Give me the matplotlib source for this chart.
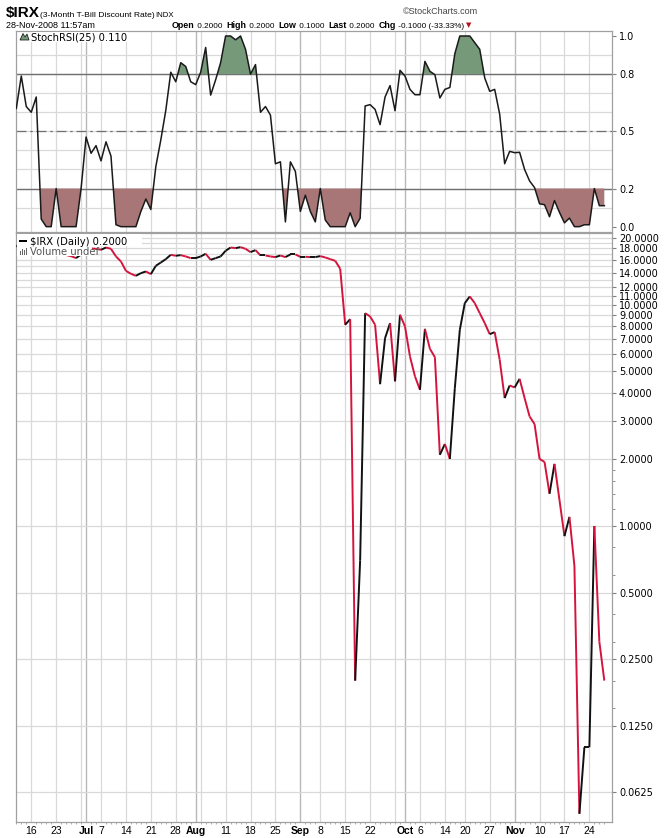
import numpy as np
import pandas as pd
import matplotlib
matplotlib.use('Agg')
import matplotlib.pyplot as plt
from matplotlib.collections import LineCollection
from matplotlib.patches import Polygon, Rectangle

# trading days shown (bond market holidays skipped)
holidays = ['2008-07-04', '2008-09-01', '2008-10-13', '2008-11-27']
days = pd.bdate_range('2008-06-11', '2008-11-28', freq='C', holidays=holidays)

# StochRSI(25)
stoch = [0.62, 0.79, 0.63, 0.60, 0.68, 0.04, 0.0, 0.0, 0.2, 0.0,
         0.0, 0.0, 0.0, 0.2, 0.47, 0.385, 0.425, 0.345, 0.445, 0.37,
         0.01, 0.0, 0.0, 0.0, 0.0, 0.08, 0.145, 0.09, 0.315, 0.455,
         0.61, 0.81, 0.76, 0.86, 0.84, 0.76, 0.745, 0.81, 0.94, 0.69,
         0.77, 0.86, 1.0, 1.0, 0.98, 1.0, 0.93, 0.8, 0.85, 0.60,
         0.63, 0.585, 0.33, 0.34, 0.025, 0.34, 0.29, 0.08, 0.165, 0.08,
         0.025, 0.2, 0.035, 0.0, 0.0, 0.0, 0.0, 0.073, 0.0, 0.044,
         0.633, 0.64, 0.615, 0.535, 0.68, 0.74, 0.608, 0.82, 0.79, 0.72,
         0.692, 0.692, 0.867, 0.815, 0.797, 0.675, 0.72, 0.73, 0.907, 1.0,
         1.0, 1.0, 0.965, 0.93, 0.78, 0.71, 0.72, 0.59, 0.33, 0.395,
         0.388, 0.39, 0.3, 0.24, 0.205, 0.12, 0.115, 0.052, 0.137, 0.075,
         0.02, 0.045, 0.0, 0.0, 0.01, 0.01, 0.2, 0.11, 0.11]

# $IRX daily close
irx = [18.4, 18.6, 18.3, 18.0, 18.1, 17.4, 17.2, 16.95, 17.1, 16.9,
       16.8, 16.6, 16.27, 16.9, 17.6, 18.0, 17.92, 17.74, 18.17, 17.92,
       16.55, 15.71, 14.25, 13.82, 13.53, 13.91, 14.16, 13.77, 15.02, 15.54,
       16.10, 16.84, 16.67, 16.78, 16.55, 16.27, 16.27, 16.55, 17.02, 15.98,
       16.27, 16.55, 17.56, 18.17, 18.05, 18.24, 17.92, 17.32, 17.68, 16.72,
       16.72, 16.55, 16.44, 16.72, 16.44, 16.9, 16.9, 16.49, 16.49, 16.44,
       16.44, 16.61, 16.38, 16.10, 15.82, 14.55, 8.13, 8.62, 0.20, 0.70,
       9.17, 8.86, 8.13, 4.38, 7.07, 8.27, 4.51, 9.02, 7.99, 5.84,
       4.75, 4.13, 7.79, 6.33, 5.80, 2.10, 2.35, 2.01, 4.20, 7.71,
       10.18, 10.91, 10.18, 9.17, 8.27, 7.37, 7.53, 5.65, 3.79, 4.32,
       4.23, 4.63, 3.79, 3.13, 2.89, 2.01, 1.95, 1.40, 1.91, 1.31,
       0.90, 1.10, 0.66, 0.05, 0.10, 0.10, 1.00, 0.30, 0.20]

price_ticks = [20, 18, 16, 14, 12, 11, 10, 9, 8, 7, 6, 5, 4, 3, 2, 1,
               0.5, 0.25, 0.125, 0.0625]
stoch_ticks = [0.0, 0.2, 0.5, 0.8, 1.0]

x = np.arange(len(days))
stoch = np.array(stoch)
irx = np.array(irx)

W, H = 670.0, 838.0
def box(l, t, r, b):
    return [l / W, 1 - b / H, (r - l) / W, (b - t) / H]

fig = plt.figure(figsize=(6.7, 8.38), dpi=100, facecolor='white')
ax1 = fig.add_axes(box(16.3, 31.5, 612, 232))
ax2 = fig.add_axes(box(16.3, 233, 612, 822), sharex=ax1)

grid_c = '#d9d9d9'
month_c = '#b8b8b8'

# vertical grid: weeks and months
week_pos, month_pos = [], []
for i in range(1, len(days)):
    if days[i].month != days[i - 1].month:
        month_pos.append(i)
    elif days[i].weekday() < days[i - 1].weekday():
        week_pos.append(i)
for ax in (ax1, ax2):
    for p in week_pos:
        ax.axvline(p, color=grid_c, lw=0.9, zorder=0)
    for p in month_pos:
        ax.axvline(p, color=month_c, lw=1.0, zorder=0)
    for s in ax.spines.values():
        s.set_color('#a0a0a0')
        s.set_linewidth(0.9)

# ---- top panel: StochRSI
ax1.set_xlim(0.4, 119.54)
ax1.set_ylim(-0.028, 1.0236)
for v in np.arange(0.1, 1.0, 0.1):
    ax1.axhline(v, color=grid_c, lw=0.9, zorder=0)
ax1.axhline(0.8, color='#707070', lw=1.0, zorder=1)
ax1.axhline(0.2, color='#707070', lw=1.0, zorder=1)
ax1.axhline(0.5, color='#707070', lw=0.9, ls=(0, (8, 3, 2, 3)), zorder=1)
ax1.fill_between(x, stoch, 0.8, where=stoch >= 0.8, interpolate=True,
                 color='#76997a', lw=0, zorder=2)
ax1.fill_between(x, stoch, 0.2, where=stoch <= 0.2, interpolate=True,
                 color='#a87676', lw=0, zorder=2)
ax1.plot(x, stoch, color='#1a1a1a', lw=1.1, zorder=3)
ax1.yaxis.tick_right()
ax1.set_yticks(stoch_ticks)
ax1.set_yticklabels(['%.1f' % v for v in stoch_ticks])
ax1.tick_params(axis='y', length=3, width=0.8, color='#808080', labelsize=7, pad=2)
ax1.tick_params(axis='x', bottom=False, labelbottom=False)

# ---- lower panel: $IRX
ax2.set_yscale('log', base=2)
ax2.set_ylim(0.0459, 21.13)
for v in list(range(2, 21)) + [1, 0.5, 0.25, 0.125, 0.0625]:
    ax2.axhline(v, color=grid_c, lw=0.9, zorder=0)
segs = [[(x[i - 1], irx[i - 1]), (x[i], irx[i])] for i in range(1, len(x))]
cols = ['#d4143c' if irx[i] < irx[i - 1] else '#111111' for i in range(1, len(x))]
ax2.add_collection(LineCollection(segs, colors=cols, linewidths=1.4, zorder=3))
ax2.yaxis.tick_right()
ax2.set_yticks(price_ticks)
ax2.set_yticklabels(['%.4f' % v for v in price_ticks])
ax2.set_yticks([1.2, 1.4, 1.6, 1.8, 0.6, 0.8, 0.3, 0.4, 0.15, 0.2], minor=True)
ax2.yaxis.set_minor_formatter(plt.NullFormatter())
ax2.tick_params(axis='y', which='major', length=3, width=0.8, color='#808080',
                labelsize=7, pad=2)
ax2.tick_params(axis='y', which='minor', length=2, width=0.7, color='#909090')

# x tick labels
tpos, tlab, tbold = [], [], []
for p in month_pos:
    tpos.append(p); tlab.append(days[p].strftime('%b')); tbold.append(True)
for p in [3, 8] + week_pos:
    if p in tpos:
        continue
    if min(abs(p - m) for m in month_pos) <= 2:
        continue
    tpos.append(p); tlab.append(str(days[p].day)); tbold.append(False)
ax2.set_xticks(tpos)
ax2.set_xticklabels(tlab)
for lbl, b in zip(ax2.get_xticklabels(), tbold):
    lbl.set_family('Liberation Sans')
    lbl.set_fontsize(7.5)
    if b:
        lbl.set_fontweight('bold')
ax2.set_xticks(x, minor=True)
ax2.tick_params(axis='x', which='major', length=0, pad=3)
ax2.tick_params(axis='x', which='minor', length=1.5, width=0.6, color='#a0a0a0')

# ---- header
def ftext(px, py, s, **kw):
    return fig.text(px / W, 1 - py / H, s, **kw)

hf = 'Liberation Sans'
ftext(6, 17, '$IRX', family=hf, fontsize=11, fontweight='bold', va='baseline')
ftext(40, 17, '(3-Month T-Bill Discount Rate)', family=hf, fontsize=6.1, va='baseline')
ftext(155, 17, 'INDX', family=hf, fontsize=5.6, va='baseline')
ftext(478, 14, '\u00a9StockCharts.com', family=hf, fontsize=6.5, color='#444444',
      va='baseline', ha='right')
ftext(6, 27.5, '28-Nov-2008 11:57am', family=hf, fontsize=6.5, va='baseline')
r = fig.canvas.get_renderer()
hx = 172
for word, bold in [('Open', True), (' 0.2000  ', False), ('High', True), (' 0.2000  ', False),
                   ('Low', True), (' 0.1000  ', False), ('Last', True), (' 0.2000  ', False),
                   ('Chg', True), (' -0.1000 (-33.33%)', False)]:
    t = ftext(hx, 27.5, word, family=hf, fontsize=6.4 if bold else 5.9,
              fontweight='bold' if bold else 'normal', va='baseline')
    hx += t.get_window_extent(renderer=r).width
ftext(hx + 1, 27, '\u25bc', fontsize=5, color='#b01020', va='baseline')

# panel legends
fig.patches.append(Polygon([(20 / W, 1 - 40 / H), (23 / W, 1 - 33.5 / H), (25 / W, 1 - 37 / H),
                            (27 / W, 1 - 34 / H), (29 / W, 1 - 40 / H)], closed=True,
                           transform=fig.transFigure, fc='#76997a', ec='#222222', lw=0.6))
ftext(31, 40, 'StochRSI(25) 0.110', fontsize=7.2, va='baseline',
      bbox=dict(fc='white', ec='none', pad=0.3))
# white boxes behind the price legend
fig.patches.append(Rectangle((17 / W, 1 - 246.5 / H), 125 / W, 12.5 / H,
                             transform=fig.transFigure, fc='white', ec='none', zorder=4))
fig.patches.append(Rectangle((17 / W, 1 - 256.5 / H), 75 / W, 10 / H,
                             transform=fig.transFigure, fc='white', ec='none', zorder=4))
ftext(30.5, 245, '$IRX (Daily) 0.2000', fontsize=7.2, va='baseline', zorder=6)
fig.patches.append(Rectangle((19 / W, 1 - 242 / H), 8 / W, 1.6 / H,
                             transform=fig.transFigure, fc='black', ec='none', zorder=5))
ftext(30, 255, 'Volume undef', fontsize=7.2, color='#555555', va='baseline', zorder=6)
for k, hh in enumerate([4, 6, 5, 7]):
    fig.patches.append(Rectangle(((19.5 + 2 * k) / W, 1 - 255 / H), 1.3 / W, hh / H,
                                 transform=fig.transFigure, fc='#666666', ec='none', zorder=5))

fig.savefig('out.png', dpi=100, facecolor='white')
